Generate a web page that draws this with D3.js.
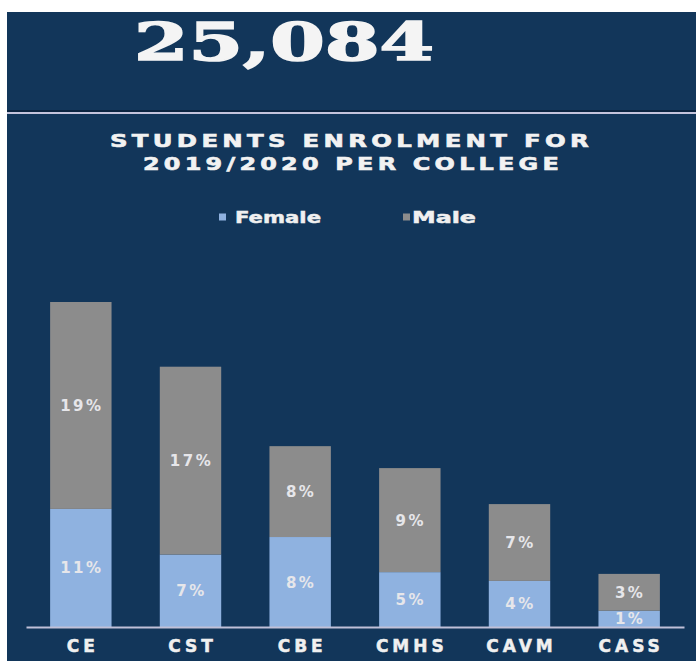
<!DOCTYPE html>
<html>
<head>
<meta charset="utf-8">
<script src="https://cdn.jsdelivr.net/npm/d3@7"></script>
<style>
  html, body { margin: 0; padding: 0; background: #fff; }
  svg { display: block; }
</style>
</head>
<body>
<div id="app"></div>
<script>
const width = 696
const height = 661

// student counts
const colleges = ['CE', 'CST', 'CBE', 'CMHS', 'CAVM', 'CASS']
const female = [2690, 1650, 2050, 1250, 1050, 370]
const male = [4714, 4280, 2070, 2370, 1750, 840]
const seriesNames = ['Female', 'Male']
const titleLines = ['STUDENTS ENROLMENT FOR', '2019/2020 PER COLLEGE']

const colors = {
    Female: '#8fb2e0',
    Male: '#8c8c8c'
}

const bg = '#12365a'

const rows = colleges.map((c, i) => ({ college: c, Female: female[i], Male: male[i] }))
const total = d3.sum(female) + d3.sum(male)

const svg = d3.select('#app').append('svg')
    .attr('width', width)
    .attr('height', height)

// panel background (scan leaves a white strip top/left)
svg.append('rect')
    .attr('x', 7).attr('y', 12)
    .attr('width', width - 7).attr('height', height - 12)
    .attr('fill', bg)

// big total
svg.append('text')
    .attr('x', 134).attr('y', 60)
    .attr('textLength', 300)
    .attr('lengthAdjust', 'spacingAndGlyphs')
    .attr('font-family', '"DejaVu Serif", serif')
    .attr('font-weight', 'bold')
    .attr('font-size', 52)
    .attr('fill', '#f4f4f4')
    .attr('stroke', '#f4f4f4')
    .attr('stroke-width', 1.6)
    .text(d3.format(',')(total))

// divider between number and chart
svg.append('line')
    .attr('x1', 7).attr('x2', width)
    .attr('y1', 111).attr('y2', 111)
    .attr('stroke', '#0b2440').attr('stroke-width', 2)
svg.append('line')
    .attr('x1', 7).attr('x2', width)
    .attr('y1', 113).attr('y2', 113)
    .attr('stroke', '#c4c4dc').attr('stroke-width', 2)

// title (scan is stretched sideways, so the glyphs are stretched too)
const titleSpans = [[110, 147, 483], [143, 170, 420]]
svg.selectAll('.title')
    .data(titleLines)
    .join('text')
    .attr('class', 'title')
    .attr('x', (d, i) => titleSpans[i][0])
    .attr('y', (d, i) => titleSpans[i][1])
    .attr('textLength', (d, i) => titleSpans[i][2])
    .attr('lengthAdjust', 'spacingAndGlyphs')
    .attr('font-family', '"DejaVu Sans", sans-serif')
    .attr('font-weight', 'bold')
    .attr('font-size', 17)
    .attr('letter-spacing', 3)
    .attr('fill', '#f2f2f2')
    .attr('stroke', '#f2f2f2')
    .attr('stroke-width', 0.6)
    .text(d => d)

// legend
const legendX = [219, 403]
const legendText = { Female: [16, 86], Male: [9, 64] }
const legend = svg.selectAll('.legend')
    .data(seriesNames)
    .join('g')
    .attr('class', 'legend')
    .attr('transform', (d, i) => `translate(${legendX[i]},217)`)
legend.append('rect')
    .attr('x', 0).attr('y', -3.5)
    .attr('width', 7).attr('height', 7)
    .attr('fill', d => colors[d])
legend.append('text')
    .attr('x', d => legendText[d][0])
    .attr('y', 5.5)
    .attr('textLength', d => legendText[d][1])
    .attr('lengthAdjust', 'spacingAndGlyphs')
    .attr('font-family', '"DejaVu Sans", sans-serif')
    .attr('font-weight', 'bold')
    .attr('font-size', 16)
    .attr('fill', '#f0f0f0')
    .attr('stroke', '#f0f0f0')
    .attr('stroke-width', 0.5)
    .text(d => d)

// scales
const baseY = 627
const x = d3.scaleBand()
    .domain(colleges)
    .range([26, 684])
    .paddingInner(0.44)
    .paddingOuter(0.22)

const y = d3.scaleLinear()
    .domain([0, d3.max(rows, d => d.Female + d.Male)])
    .range([baseY, 302])

const stacked = d3.stack().keys(seriesNames)(rows)

const layers = svg.selectAll('.layer')
    .data(stacked)
    .join('g')
    .attr('class', 'layer')
    .attr('fill', d => colors[d.key])

layers.selectAll('rect')
    .data(d => d)
    .join('rect')
    .attr('x', d => x(d.data.college))
    .attr('width', x.bandwidth())
    .attr('y', d => y(d[1]))
    .attr('height', d => y(d[0]) - y(d[1]))

// percentage labels in each segment
const pct = d3.format('.0%')
layers.selectAll('text')
    .data(d => d)
    .join('text')
    .attr('x', d => x(d.data.college) + x.bandwidth() / 2 + 1)
    .attr('y', d => (y(d[0]) + y(d[1])) / 2 + 5.5)
    .attr('text-anchor', 'middle')
    .attr('font-family', '"DejaVu Sans", sans-serif')
    .attr('font-weight', 'bold')
    .attr('font-size', 15)
    .attr('letter-spacing', 2.5)
    .attr('fill', '#e6e6ea')
    .text(d => pct((d[1] - d[0]) / total))

// x axis
const xAxis = svg.append('g')
    .attr('transform', `translate(0,${baseY})`)
    .call(d3.axisBottom(x).tickSize(0).tickPadding(13))
xAxis.select('.domain')
    .attr('stroke', '#c0c0d8')
    .attr('stroke-width', 2)
xAxis.selectAll('text')
    .attr('dx', 2)
    .attr('font-family', '"DejaVu Sans", sans-serif')
    .attr('font-weight', 'bold')
    .attr('font-size', 17)
    .attr('letter-spacing', 4)
    .attr('fill', '#f0f0f0')
    .attr('stroke', '#f0f0f0')
    .attr('stroke-width', 0.5)
</script>
</body>
</html>
